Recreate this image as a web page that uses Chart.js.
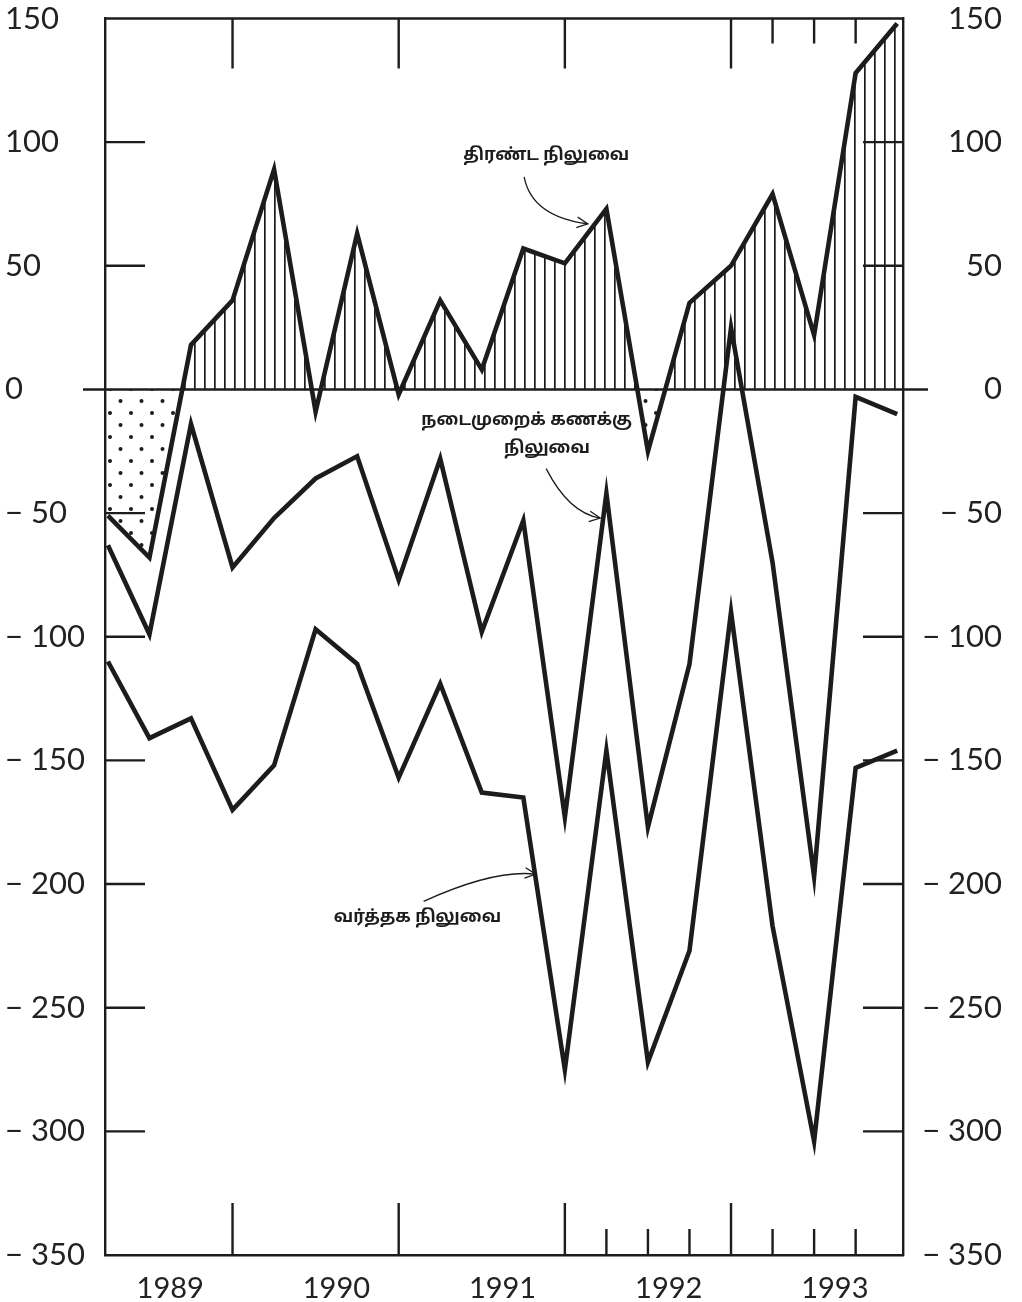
<!DOCTYPE html>
<html>
<head>
<meta charset="utf-8">
<script src="https://cdn.jsdelivr.net/npm/chart.js@4.4.1/dist/chart.umd.min.js"></script>
<style>
  html, body { margin: 0; padding: 0; background: #fff; }
  #wrap { width: 1022px; height: 1302px; }
</style>
</head>
<body>
<div id="wrap"><canvas id="balanceChart" width="1022" height="1302"></canvas></div>
<script>
// quarterly data, 1989 Q1 .. 1993 Q4
const years = ['1989', '1990', '1991', '1992', '1993'];
const quarters = ['I', 'II', 'III', 'IV'];

const overallBalance = [-51, -68, 18, 36, 89, -9, 63, -2, 36, 8,
                        57, 51, 73, -25, 35, 50, 79, 22, 128, 148];
const currentAccount = [-63, -99, -14, -72, -52, -36, -27, -77, -28, -98,
                        -53, -173, -42, -177, -111, 25, -70, -197, -3, -10];
const tradeBalance = [-110, -141, -133, -170, -152, -97, -111, -157, -119, -163,
                      -165, -275, -146, -272, -227, -90, -217, -304, -153, -146];

const yTicks = [150, 100, 50, 0, -50, -100, -150, -200, -250, -300, -350];

const labelOverall = 'திரண்ட நிலுவை';
const labelCurrent = ['நடைமுறைக் கணக்கு', 'நிலுவை'];
const labelTrade = 'வர்த்தக நிலுவை';

const ink = '#1c1c1c';
const tamilFont = "bold 17px 'Noto Sans Tamil', 'Lohit Tamil', 'Noto Sans', sans-serif";
const tickFont = { family: 'Lato', size: 31, weight: 400, lineHeight: 1.0 };

// period list and point positions
const periods = [];
years.forEach(y => quarters.forEach(q => periods.push(y + ' ' + q)));
const toPoints = arr => arr.map((v, i) => ({ x: i, y: v }));

function makeHatch() {
    const c = document.createElement('canvas');
    c.width = 10; c.height = 10;
    const g = c.getContext('2d');
    g.fillStyle = ink;
    g.fillRect(4, 0, 1.7, 10);
    return g.createPattern(c, 'repeat');
}

function makeDots() {
    const c = document.createElement('canvas');
    c.width = 21; c.height = 24;
    const g = c.getContext('2d');
    g.fillStyle = ink;
    g.beginPath(); g.arc(5, 5, 2, 0, Math.PI * 2); g.fill();
    g.beginPath(); g.arc(15.5, 17, 2, 0, Math.PI * 2); g.fill();
    return g.createPattern(c, 'repeat');
}

function arrow(ctx, pts, head) {
    ctx.beginPath();
    ctx.moveTo(pts[0][0], pts[0][1]);
    ctx.quadraticCurveTo(pts[1][0], pts[1][1], pts[2][0], pts[2][1]);
    ctx.stroke();
    // arrow head along direction control -> end
    const dx = pts[2][0] - pts[1][0], dy = pts[2][1] - pts[1][1];
    const a = Math.atan2(dy, dx);
    ctx.beginPath();
    ctx.moveTo(pts[2][0] - head * Math.cos(a - 0.45), pts[2][1] - head * Math.sin(a - 0.45));
    ctx.lineTo(pts[2][0], pts[2][1]);
    ctx.lineTo(pts[2][0] - head * Math.cos(a + 0.45), pts[2][1] - head * Math.sin(a + 0.45));
    ctx.stroke();
}

const framePlugin = {
    id: 'frame',
    beforeDatasetsDraw(chart) {
        const { ctx, chartArea: a, scales } = chart;
        const x = scales.x, y = scales.y;
        ctx.save();
        ctx.strokeStyle = ink;
        ctx.lineWidth = 2.4;

        // top border
        ctx.beginPath();
        ctx.moveTo(a.left, a.top); ctx.lineTo(a.right, a.top);
        ctx.stroke();

        // inner y ticks, both sides
        yTicks.forEach(v => {
            if (v === 0 || v === 150 || v === -350) return;
            const py = y.getPixelForValue(v);
            ctx.beginPath();
            ctx.moveTo(a.left, py); ctx.lineTo(a.left + 40, py);
            ctx.moveTo(a.right - 40, py); ctx.lineTo(a.right, py);
            ctx.stroke();
        });

        // zero line running past both axes
        const py0 = y.getPixelForValue(0);
        ctx.beginPath();
        ctx.moveTo(a.left - 22, py0); ctx.lineTo(a.right + 25, py0);
        ctx.stroke();

        // year ticks (long) and quarter ticks (short)
        const longTicks = [3, 7, 11, 15];
        const shortBottom = [12, 13, 14, 16, 17, 18];
        const shortTop = [16, 17, 18];
        ctx.beginPath();
        longTicks.forEach(i => {
            const px = x.getPixelForValue(i);
            ctx.moveTo(px, a.bottom); ctx.lineTo(px, a.bottom - 52);
            ctx.moveTo(px, a.top); ctx.lineTo(px, a.top + 50);
        });
        shortBottom.forEach(i => {
            const px = x.getPixelForValue(i);
            ctx.moveTo(px, a.bottom); ctx.lineTo(px, a.bottom - 26);
        });
        shortTop.forEach(i => {
            const px = x.getPixelForValue(i);
            ctx.moveTo(px, a.top); ctx.lineTo(px, a.top + 25);
        });
        ctx.stroke();
        ctx.restore();
    },
    afterDatasetsDraw(chart) {
        const { ctx, scales } = chart;
        const X = v => scales.x.getPixelForValue(v);
        const Y = v => scales.y.getPixelForValue(v);
        ctx.save();
        ctx.fillStyle = ink;
        ctx.strokeStyle = ink;
        ctx.lineWidth = 1.3;
        ctx.font = tamilFont;
        ctx.textAlign = 'center';
        ctx.textBaseline = 'middle';

        ctx.fillText(labelOverall, X(10.55), Y(94));
        arrow(ctx, [[X(10.02), Y(86)], [X(10.2), Y(70)], [X(11.55), Y(67)]], 12);

        ctx.fillText(labelCurrent[0], X(10.08), Y(-13));
        ctx.fillText(labelCurrent[1], X(10.57), Y(-24.5));
        arrow(ctx, [[X(10.55), Y(-32)], [X(11.1), Y(-50)], [X(11.85), Y(-52)]], 12);

        ctx.fillText(labelTrade, X(7.45), Y(-214));
        arrow(ctx, [[X(7.6), Y(-207)], [X(9.3), Y(-194)], [X(10.3), Y(-196)]], 12);
        ctx.restore();
    }
};

const ctx = document.getElementById('balanceChart').getContext('2d');
const lineStyle = {
    borderColor: ink,
    borderWidth: 4.6,
    borderJoinStyle: 'miter',
    pointRadius: 0,
    tension: 0
};
const tickLabel = v => v < 0 ? '\u2212 ' + Math.abs(v) : String(v);

const balanceChart = new Chart(ctx, {
    type: 'line',
    data: {
        datasets: [
            {
                label: labelOverall,
                data: toPoints(overallBalance),
                ...lineStyle,
                fill: { target: 'origin', above: makeHatch(), below: makeDots() }
            },
            {
                label: labelCurrent.join(' '),
                data: toPoints(currentAccount),
                ...lineStyle,
                fill: false
            },
            {
                label: labelTrade,
                data: toPoints(tradeBalance),
                ...lineStyle,
                fill: false
            }
        ]
    },
    options: {
        responsive: false,
        animation: false,
        layout: { padding: { top: 0, bottom: 0, left: 5, right: 20 } },
        plugins: { legend: { display: false }, tooltip: { enabled: false } },
        scales: {
            x: {
                type: 'linear',
                min: -0.07,
                max: 19.14,
                grid: { display: false },
                border: { display: true, color: ink, width: 2.4 },
                afterBuildTicks: s => { s.ticks = [1.5, 5.5, 9.5, 13.5, 17.5].map(v => ({ value: v })); },
                afterFit: s => { s.height = 47; },
                ticks: {
                    color: '#222',
                    padding: 8,
                    maxRotation: 0,
                    autoSkip: false,
                    font: { family: 'Lato', size: 29, weight: 400 },
                    callback: v => years[Math.round((v - 1.5) / 4)]
                }
            },
            y: {
                position: 'left',
                min: -350,
                max: 150,
                grid: { display: false },
                border: { display: true, color: ink, width: 2.4 },
                afterFit: s => { s.width = 100; },
                ticks: {
                    stepSize: 50,
                    color: '#222',
                    crossAlign: 'far',
                    font: tickFont,
                    callback: tickLabel
                }
            },
            y2: {
                position: 'right',
                min: -350,
                max: 150,
                grid: { display: false },
                border: { display: true, color: ink, width: 2.4 },
                afterFit: s => { s.width = 99; },
                ticks: {
                    stepSize: 50,
                    color: '#222',
                    crossAlign: 'far',
                    font: tickFont,
                    callback: tickLabel
                }
            }
        }
    },
    plugins: [framePlugin]
});
</script>
</body>
</html>
